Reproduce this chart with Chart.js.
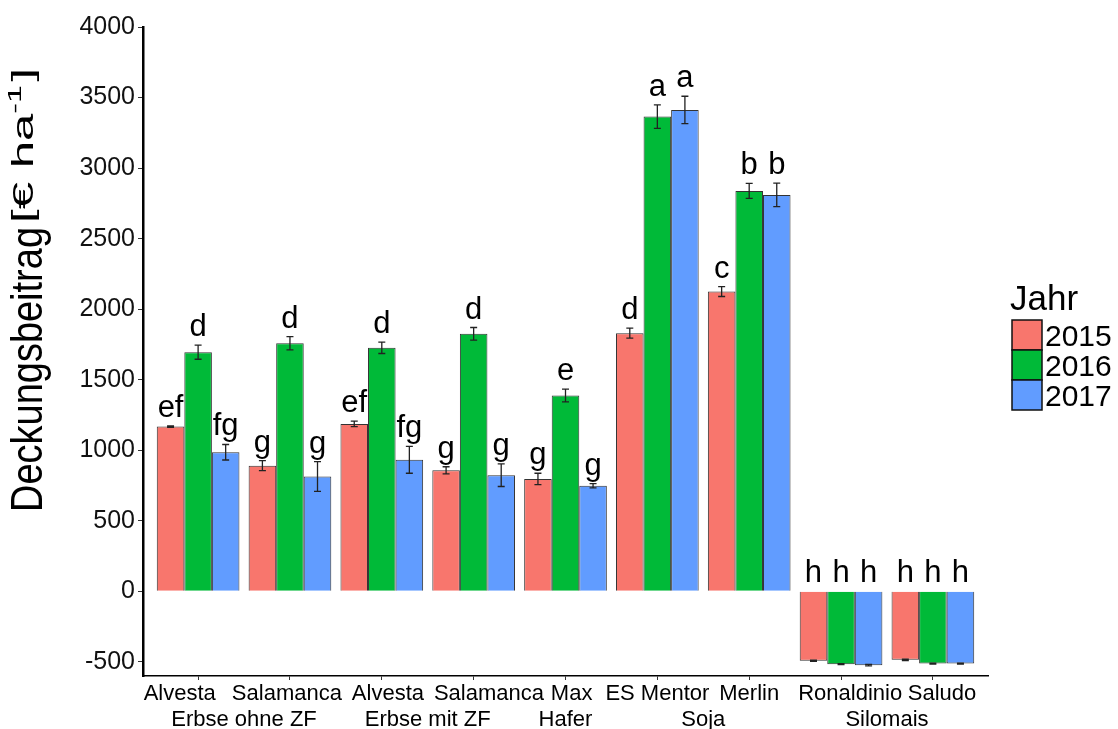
<!DOCTYPE html>
<html>
<head>
<meta charset="utf-8">
<script src="https://cdn.jsdelivr.net/npm/chart.js@4.4.0/dist/chart.umd.min.js"></script>
<style>
html, body { margin: 0; padding: 0; background: #fff; }
</style>
</head>
<body>
<canvas id="myChart" width="1118" height="729"></canvas>
<script>
const categories = ['Alvesta', 'Salamanca', 'Alvesta', 'Salamanca', 'Max', 'ES Mentor', 'Merlin', 'Ronaldinio', 'Saludo'];
const groups = ['Erbse ohne ZF', 'Erbse mit ZF', 'Hafer', 'Soja', 'Silomais'];
const groupPos = [1.5, 3.5, 5, 6.5, 8.5];
const years = ['2015', '2016', '2017'];
const yTicks = [-500, 0, 500, 1000, 1500, 2000, 2500, 3000, 3500, 4000];

const v2015 = [1168, 891, 1187, 858, 797, 1830, 2125, -492, -485];
const v2016 = [1695, 1759, 1726, 1825, 1388, 3365, 2838, -516, -512];
const v2017 = [986, 814, 932, 823, 748, 3412, 2810, -523, -512];

const e2015 = [5, 35, 20, 25, 40, 35, 35, 5, 5];
const e2016 = [50, 47, 40, 45, 45, 83, 53, 3, 3];
const e2017 = [55, 106, 95, 80, 15, 97, 83, 5, 3];

const l2015 = ['ef', 'g', 'ef', 'g', 'g', 'd', 'c', 'h', 'h'];
const l2016 = ['d', 'd', 'd', 'd', 'e', 'a', 'b', 'h', 'h'];
const l2017 = ['fg', 'g', 'fg', 'g', 'g', 'a', 'b', 'h', 'h'];

const colors = ['#F8766D', '#00BA38', '#619CFF'];
// the first-line labels sit a bit off their ticks in the original (in spaces)
const labelPad = [-6, -1, 2, 5, 2, 0, 0, 3, 3];

const FONT = '"Liberation Sans", Arial, sans-serif';
Chart.defaults.font.family = FONT;
Chart.defaults.color = '#000';

function makeSet(i, vals, errs, letters) {
    return {
        label: years[i],
        data: vals.map((v, k) => ({ x: k + 1, y: v })),
        err: errs,
        letters: letters,
        backgroundColor: colors[i],
        borderColor: '#333',
        borderWidth: 1,
        categoryPercentage: 0.9,
        barPercentage: 1.0
    };
}

function padLabel(i) {
    const n = labelPad[i];
    const sp = ' '.repeat(Math.abs(n));
    return n > 0 ? sp + categories[i] : categories[i] + sp;
}

// error bars + letters
const errorBars = {
    id: 'errorBars',
    afterDatasetsDraw(chart) {
        const ctx = chart.ctx;
        const ys = chart.scales.y;
        ctx.save();
        chart.data.datasets.forEach((ds, d) => {
            const meta = chart.getDatasetMeta(d);
            meta.data.forEach((bar, i) => {
                const v = ds.data[i].y, e = ds.err[i];
                const top = ys.getPixelForValue(v + e);
                const bot = ys.getPixelForValue(v - e);
                ctx.strokeStyle = '#222';
                ctx.lineWidth = 1.3;
                ctx.beginPath();
                ctx.moveTo(bar.x, top); ctx.lineTo(bar.x, bot);
                ctx.moveTo(bar.x - 3.5, top); ctx.lineTo(bar.x + 3.5, top);
                ctx.moveTo(bar.x - 3.5, bot); ctx.lineTo(bar.x + 3.5, bot);
                ctx.stroke();
                ctx.fillStyle = '#000';
                ctx.font = '31px ' + FONT;
                ctx.textAlign = 'center';
                ctx.textBaseline = 'alphabetic';
                ctx.fillText(ds.letters[i], bar.x, ys.getPixelForValue(Math.max(0, v + e)) - 9);
            });
        });
        ctx.restore();
    }
};

// legend and y title
const extras = {
    id: 'extras',
    afterDraw(chart) {
        const ctx = chart.ctx;
        ctx.save();
        ctx.fillStyle = '#000';
        ctx.textAlign = 'left';
        ctx.textBaseline = 'alphabetic';
        ctx.font = '35px ' + FONT;
        ctx.fillText('Jahr', 1010, 310);
        chart.data.datasets.forEach((ds, i) => {
            const y0 = 320 + i * 30;
            ctx.fillStyle = ds.backgroundColor;
            ctx.fillRect(1012, y0, 30, 30);
            ctx.strokeStyle = '#111';
            ctx.lineWidth = 1.5;
            ctx.strokeRect(1012, y0, 30, 30);
            ctx.fillStyle = '#000';
            ctx.font = '30px ' + FONT;
            ctx.fillText(ds.label, 1045, y0 + 26);
        });

        // y title
        ctx.save();
        ctx.translate(42, 512);
        ctx.rotate(-Math.PI / 2);
        ctx.font = '44px ' + FONT;
        const w1 = ctx.measureText('Deckungsbeitrag').width;
        ctx.scale(285 / w1, 1);
        ctx.fillText('Deckungsbeitrag', 0, 0);
        ctx.restore();

        ctx.save();
        ctx.translate(33, 223);
        ctx.rotate(-Math.PI / 2);
        ctx.font = '29px ' + FONT;
        const a = ctx.measureText('[€ ha').width;
        ctx.font = '19px ' + FONT;
        const b = ctx.measureText('-1').width;
        ctx.font = '29px ' + FONT;
        const c = ctx.measureText(']').width;
        ctx.scale(155 / (a + b + c + 2), 1);
        ctx.fillText('[€ ha', 0, 0);
        ctx.font = '19px ' + FONT;
        ctx.fillText('-1', a, -12);
        ctx.font = '29px ' + FONT;
        ctx.fillText(']', a + b + 2, 0);
        ctx.restore();
        ctx.restore();
    }
};

const ctx = document.getElementById('myChart');
const myChart = new Chart(ctx, {
    type: 'bar',
    data: {
        datasets: [
            makeSet(0, v2015, e2015, l2015),
            makeSet(1, v2016, e2016, l2016),
            makeSet(2, v2017, e2017, l2017)
        ]
    },
    options: {
        responsive: false,
        animation: false,
        layout: { padding: { top: 27, right: 130, left: 0, bottom: 0 } },
        plugins: {
            legend: { display: false },
            tooltip: { enabled: false }
        },
        scales: {
            x: {
                type: 'linear',
                position: 'bottom',
                min: 0.4,
                max: 9.6,
                offset: false,
                afterBuildTicks: s => { s.ticks = categories.map((c, i) => ({ value: i + 1 })); },
                afterFit: s => { s.height = 26; },
                ticks: {
                    callback: (v, i) => padLabel(i),
                    font: { size: 22 },
                    padding: 1,
                    autoSkip: false,
                    maxRotation: 0,
                    color: '#000'
                },
                grid: { drawOnChartArea: false, offset: false, tickLength: 4, color: '#333' },
                border: { color: '#000', width: 1.5 }
            },
            x2: {
                type: 'linear',
                position: 'bottom',
                min: 0.4,
                max: 9.6,
                offset: false,
                afterBuildTicks: s => { s.ticks = groupPos.map(v => ({ value: v })); },
                afterFit: s => { s.height = 27; },
                ticks: {
                    callback: (v, i) => groups[i],
                    font: { size: 22 },
                    padding: 5,
                    autoSkip: false,
                    maxRotation: 0,
                    color: '#000'
                },
                grid: { display: false, drawTicks: false },
                border: { display: false }
            },
            y: {
                min: -600,
                max: 4000,
                afterBuildTicks: s => { s.ticks = yTicks.map(v => ({ value: v })); },
                afterFit: s => { s.width = 143; },
                ticks: { callback: v => String(v), font: { size: 25 }, padding: 3, color: '#111' },
                grid: { drawOnChartArea: false, tickLength: 5, color: '#333' },
                border: { color: '#000', width: 2.5 }
            }
        }
    },
    plugins: [errorBars, extras]
});
</script>
</body>
</html>
